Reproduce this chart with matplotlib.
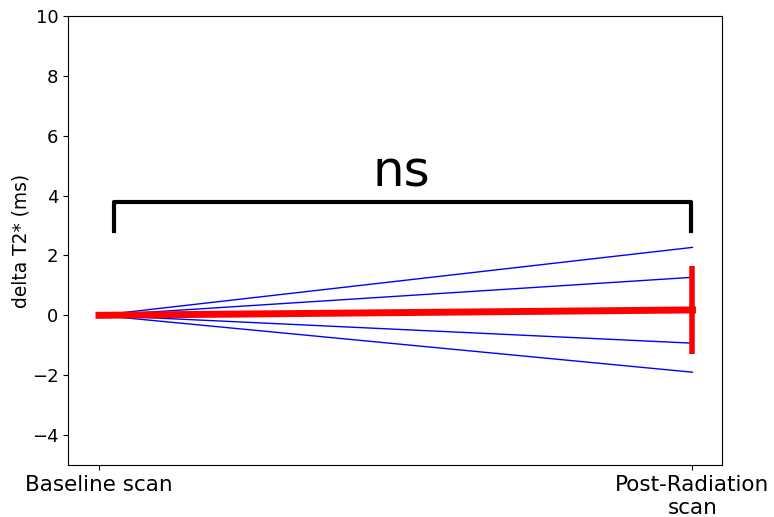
import matplotlib
matplotlib.use("Agg")
import matplotlib.pyplot as plt
import numpy as np

# timepoints and labels
timepoints = [0, 1]
tick_labels = ["Baseline scan", "Post-Radiation\nscan"]

# individual subjects: delta T2* (ms) at baseline and post-radiation
subject_baseline = [0.0, 0.0, 0.0, 0.0]
subject_post = [2.27, 1.27, -0.93, -1.90]

# group mean and error
mean_values = [0.0, 0.18]
error_values = [0.0, 1.48]

# significance bracket
bracket_x = [0.025, 0.025, 0.997, 0.997]
bracket_y = [2.83, 3.8, 3.8, 2.83]
sig_label = "ns"

fig = plt.figure(figsize=(7.74, 5.17), dpi=100)
ax = fig.add_axes([0.088, 0.1006, 0.845, 0.8684])

for b, p in zip(subject_baseline, subject_post):
    ax.plot(timepoints, [b, p], color="blue", lw=1)

ax.errorbar(timepoints, mean_values, yerr=error_values, color="red",
            lw=5, elinewidth=4, capsize=0)

ax.plot(bracket_x, bracket_y, color="black", lw=3)
ax.text(0.51, 3.97, sig_label, ha="center", va="bottom", fontsize=36)

ax.set_xlim(-0.052, 1.05)
ax.set_ylim(-5, 10)
ax.set_yticks(np.arange(-4, 11, 2))
ax.set_xticks(timepoints)
ax.set_xticklabels(tick_labels)
ax.tick_params(axis="y", labelsize=13)
ax.tick_params(axis="x", labelsize=15.5)
ax.set_ylabel("delta T2* (ms)", fontsize=13.4, labelpad=1)

fig.savefig("out.png", dpi=100)
